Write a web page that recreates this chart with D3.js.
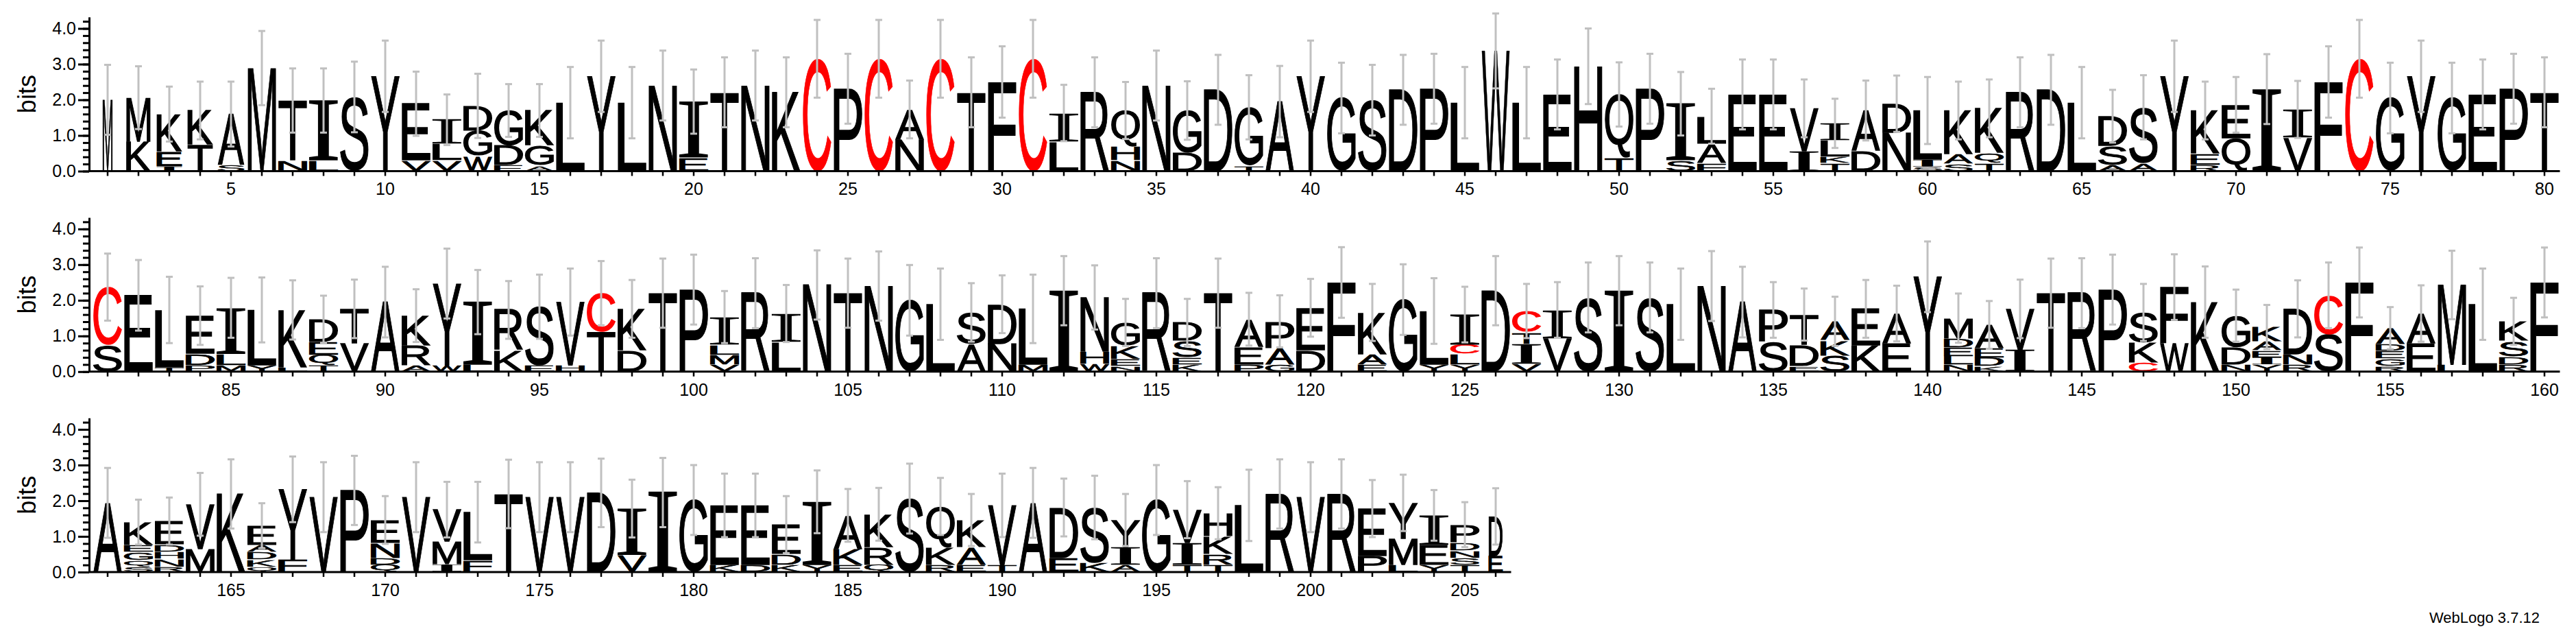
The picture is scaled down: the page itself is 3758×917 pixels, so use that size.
<!DOCTYPE html>
<meta charset="utf-8">
<script src="https://d3js.org/d3.v7.min.js"></script>
<style>
  body { margin: 0; background: #fff; }
  .tick text { font-family: "Liberation Sans", Arial, sans-serif; }
</style>
<div id="logo"></div>
<script>

// stacks bottom -> top, [residue, bits]
const row1Stacks = [
  [["M",2.0]], [["K",.83],["M",1.23]], [["I",.14],["E",.42],["K",1.04]], [["T",.75],["K",.95]], [["S",.17],["A",1.43]],
  [["M",2.89]], [["N",.3],["T",1.68]], [["L",.3],["I",1.68]], [["S",2.08]], [["Y",2.66]],
  [["V",.3],["E",1.59]], [["V",.3],["L",.46],["I",.68]], [["W",.43],["G",.7],["D",.7]], [["E",.16],["D",.56],["G",.98]], [["A",.16],["G",.56],["K",.98]],
  [["L",1.92]], [["Y",2.66]], [["L",1.92]], [["N",2.4]], [["E",.38],["I",1.57]],
  [["T",2.21]], [["N",2.4]], [["K",2.21]], [["C",3.15]], [["P",2.31]],
  [["C",3.15]], [["N",.88],["A",.85]], [["C",3.15]], [["T",2.21]], [["F",2.5]],
  [["C",3.15]], [["L",.82],["I",.81]], [["R",2.21]], [["N",.3],["H",.4],["Q",1.0]], [["N",2.4]],
  [["D",.52],["G",1.18]], [["D",2.28]], [["T",.16],["G",1.63]], [["A",1.95]], [["Y",2.66]],
  [["G",2.05]], [["S",1.99]], [["D",2.28]], [["P",2.31]], [["L",1.92]],
  [["W",3.37]], [["L",1.92]], [["E",2.15]], [["H",2.94]], [["T",.38],["Q",1.77]],
  [["P",2.31]], [["S",.3],["I",1.59]], [["F",.23],["A",.54],["L",.77]], [["E",2.15]], [["E",2.15]],
  [["I",.56],["V",1.2]], [["T",.23],["K",.17],["L",.47],["I",.47]], [["D",.56],["A",1.14]], [["N",1.08],["D",.81]], [["S",.12],["I",.2],["L",1.38]],
  [["S",.2],["A",.28],["K",1.22]], [["T",.23],["Q",.28],["K",1.25]], [["R",2.21]], [["D",2.28]], [["L",1.92]],
  [["A",.17],["S",.54],["D",.83]], [["A",.23],["S",1.56]], [["Y",2.66]], [["R",.17],["E",.33],["K",1.2]], [["Q",.92],["E",.94]],
  [["I",2.3]], [["V",.94],["I",.79]], [["F",2.5]], [["C",3.15]], [["G",2.05]],
  [["Y",2.66]], [["G",2.05]], [["E",2.15]], [["P",2.31]], [["T",2.21]]
];
const row2Stacks = [
  [["S",.75],["C",1.62]], [["E",2.14]], [["T",.12],["L",1.61]], [["P",.17],["D",.33],["E",1.07]], [["M",.17],["L",.33],["I",1.29]],
  [["Y",.17],["L",1.56]], [["L",.12],["K",1.61]], [["T",.17],["Q",.3],["E",.36],["D",.64]], [["V",.8],["T",.96]], [["A",1.95]],
  [["A",.17],["R",.57],["K",.83]], [["W",.17],["Y",2.3]], [["L",.19],["I",1.76]], [["K",.6],["R",1.13]], [["E",.17],["S",1.65]],
  [["H",.17],["V",1.78]], [["T",1.12],["C",1.08]], [["D",.6],["K",1.16]], [["T",2.2]], [["P",2.3]],
  [["V",.19],["M",.28],["L",.28],["I",.78]], [["R",2.2]], [["L",.82],["I",.81]], [["N",2.43]], [["T",2.2]],
  [["N",2.4]], [["G",2.0]], [["L",1.89]], [["A",.78],["S",.88]], [["N",.78],["D",1.11]],
  [["M",.19],["L",1.57]], [["I",2.27]], [["W",.22],["H",.34],["N",1.52]], [["N",.15],["E",.2],["K",.37],["G",.66]], [["R",2.2]],
  [["K",.19],["E",.2],["S",.47],["D",.52]], [["T",2.2]], [["P",.19],["E",.5],["A",.78]], [["G",.19],["A",.47],["P",.75]], [["D",.6],["E",1.19]],
  [["F",2.5]], [["E",.19],["A",.3],["K",1.17]], [["G",2.02]], [["Y",.19],["L",1.51]], [["Y",.19],["L",.3],["C",.27],["I",.84]],
  [["D",2.27]], [["V",.22],["I",.55],["T",.33],["C",.6]], [["V",.93],["I",.8]], [["S",2.08]], [["I",2.27]],
  [["S",2.08]], [["L",1.89]], [["N",2.4]], [["A",1.95]], [["S",.84],["P",.89]],
  [["E",.15],["D",.6],["T",.85]], [["S",.45],["K",.43],["A",.53]], [["K",.73],["E",1.03]], [["E",.78],["A",.85]], [["Y",2.66]],
  [["N",.19],["L",.24],["E",.25],["D",.25],["M",.57]], [["K",.15],["D",.24],["E",.26],["A",.66]], [["I",.6],["V",1.16]], [["T",2.2]], [["R",2.2]],
  [["P",2.3]], [["C",.25],["K",.57],["S",.84]], [["W",.8],["F",1.57]], [["K",1.95]], [["N",.19],["D",.49],["G",.89]],
  [["Y",.19],["I",.2],["E",.2],["A",.25],["K",.41]], [["R",.19],["N",.3],["D",1.27]], [["S",1.05],["C",1.09]], [["F",2.5]], [["R",.15],["G",.21],["E",.21],["D",.2],["A",.45]],
  [["E",.78],["A",.85]], [["L",.19],["M",2.24]], [["L",1.89]], [["R",.19],["D",.23],["S",.44],["K",.55]], [["F",2.5]]
];
const row3Stacks = [
  [["A",1.94]], [["S",.15],["Q",.18],["G",.23],["E",.2],["K",.64]], [["R",.15],["N",.22],["H",.2],["D",.2],["E",.66]], [["M",.64],["V",1.26]], [["K",2.19]],
  [["Q",.15],["K",.2],["D",.21],["A",.2],["E",.54]], [["F",.35],["Y",1.97]], [["V",2.1]], [["P",2.29]], [["Q",.2],["D",.2],["N",.42],["E",.64]],
  [["V",2.1]], [["I",.22],["M",.63],["V",.9]], [["F",.33],["L",1.35]], [["T",2.19]], [["V",2.1]],
  [["V",2.1]], [["D",2.22]], [["V",.47],["I",1.31]], [["I",2.23]], [["G",2.02]],
  [["K",.2],["E",1.67]], [["D",.2],["E",1.67]], [["K",.2],["D",.3],["E",.83]], [["Y",.2],["I",1.77]], [["E",.2],["K",.44],["A",.95]],
  [["Q",.2],["R",.5],["K",.92]], [["S",2.06]], [["R",.2],["K",.5],["Q",1.14]], [["E",.2],["A",.5],["K",.76]], [["T",.2],["V",1.67]],
  [["A",1.94]], [["E",.4],["D",1.41]], [["K",.25],["S",1.56]], [["A",.2],["I",.5],["Y",.76]], [["G",2.02]],
  [["T",.2],["I",.62],["V",.93]], [["T",.2],["R",.3],["K",.5],["H",.65]], [["L",1.87]], [["R",2.19]], [["V",2.1]],
  [["R",2.19]], [["P",.45],["E",1.33]], [["L",.2],["M",.73],["Y",1.01]], [["Y",.2],["E",.56],["I",.83]], [["T",.2],["S",.2],["N",.2],["D",.23],["P",.5]],
  [["E",.44],["D",1.12]]
];

// error bar half-lengths (bits)
const errRow1 = [.98,.88,.77,.81,.91,1.04,.9,.9,.99,1.0, .9,.71,.9,.74,.74,1.0,1.0,1.0,.98,.9,
  .98,.98,.98,1.09,.98,1.09,.81,1.09,.98,1.0, 1.09,.79,.98,.8,.98,.82,.98,.9,1.0,1.0,
  .99,.99,.98,.98,1.0,1.05,1.0,.98,1.06,.9, .98,.89,.77,.98,.98,.81,.69,.84,.79,.94,
  .81,.81,.98,.98,1.0,.74,.9,1.0,.81,.78, .98,.8,1.0,1.09,.99,1.0,.99,.98,.98,.98];
const errRow2 = [.94,.99,.93,.82,.84,.91,.83,.66,.82,.99, .74,.98,.9,.81,.9,.94,.9,.81,.97,.98,
  .73,.98,.8,.97,.97,.97,.99,1.0,.82,.81, .96,.97,.9,.66,.98,.66,.97,.74,.73,.81,
  .99,.8,.99,.92,.78,.97,.76,.78,.98,.97, .98,1.0,.98,.99,.78,.73,.69,.81,.78,.99,
  .69,.67,.82,.97,.98,.98,.8,.92,1.0,.73, .62,.8,.92,.98,.59,.79,.96,1.0,.66,.98];
const errRow3 = [.98,.63,.66,.88,.97,.63,.92,.98,.97,.67, .98,.78,.85,.96,.98,.98,.96,.81,.97,.98,
  .89,.89,.8,.88,.74,.74,.98,.8,.73,.89, .98,.81,.89,.73,.98,.8,.73,1.0,.97,.98,
  .97,.8,.79,.71,.63,.79];

// columns with many gaps are drawn narrower
const colWidths = [[1,.37],[2,.85],[3,.88],[4,.88],[5,.93],[206,.5]];
const yTicks = [0, 1, 2, 3, 4];

const W = 3758, H = 917;
const left = 134.5, step = 45, letterW = 42, axisX = 130;
const maxBits = Math.log2(20), bitPx = 52;
const rows = [
  {start: 1, stacks: row1Stacks, err: errRow1, base: 249.5},
  {start: 81, stacks: row2Stacks, err: errRow2, base: 541.8},
  {start: 161, stacks: row3Stacks, err: errRow3, base: 834}
];
const widthOf = new Map(colWidths);
const colour = ch => ch === "C" ? "#ff0000" : "#000000";
const family = ch => ch === "I" ? "'Liberation Serif'" : "'Liberation Sans'";

// ink box of each glyph, so a letter can be stretched to fill its cell
const ctx = document.createElement("canvas").getContext("2d");
const inkCache = {};
function ink(ch) {
  if (!inkCache[ch]) {
    ctx.font = "200px " + family(ch);
    const m = ctx.measureText(ch);
    inkCache[ch] = {l: m.actualBoundingBoxLeft, r: m.actualBoundingBoxRight,
                    a: m.actualBoundingBoxAscent, d: m.actualBoundingBoxDescent};
  }
  return inkCache[ch];
}

const svg = d3.select("#logo").append("svg")
  .attr("width", W).attr("height", H)
  .style("display", "block");
svg.append("rect").attr("width", W).attr("height", H).attr("fill", "#fff");

rows.forEach(r => {
  const positions = d3.range(r.start, r.start + r.stacks.length);
  const x = d3.scaleBand().domain(positions).range([left, left + positions.length * step]);
  const y = d3.scaleLinear().domain([0, maxBits]).range([r.base, r.base - maxBits * bitPx]);
  const g = svg.append("g");

  // letters (a thin outline thickens the stretched strokes a little)
  positions.forEach((p, k) => {
    const w = letterW * (widthOf.get(p) || 1);
    const cx = x(p) + x.bandwidth() / 2;
    let cum = 0;
    r.stacks[k].forEach(([ch, h]) => {
      const y0 = y(cum + h), y1 = y(cum);
      cum += h;
      const m = ink(ch);
      const pad = 0.7;
      const bw = w - 2 * pad, bh = Math.max(0.5, (y1 - y0) - 2 * pad);
      g.append("text")
        .attr("font-family", family(ch))
        .attr("font-size", 200)
        .attr("fill", colour(ch))
        .attr("stroke", colour(ch))
        .attr("stroke-width", 1.4)
        .attr("vector-effect", "non-scaling-stroke")
        .attr("transform", `translate(${cx - w / 2 + pad},${y0 + pad}) scale(${bw / (m.l + m.r)},${bh / (m.a + m.d)}) translate(${m.l},${m.a})`)
        .text(ch);
    });
  });

  // error bars
  const eb = g.append("g").attr("stroke", "#c0c0c0").attr("stroke-width", 3);
  positions.forEach((p, k) => {
    const top = d3.sum(r.stacks[k], d => d[1]);
    const cx = x(p) + x.bandwidth() / 2;
    const hi = y(top + r.err[k]), lo = y(Math.max(0, top - r.err[k]));
    eb.append("line").attr("x1", cx).attr("x2", cx).attr("y1", hi).attr("y2", lo);
    eb.append("line").attr("x1", cx - 5).attr("x2", cx + 5).attr("y1", hi).attr("y2", hi);
    eb.append("line").attr("x1", cx - 5).attr("x2", cx + 5).attr("y1", lo).attr("y2", lo);
  });

  // x axis
  const xEnd = left + positions.length * step;
  const xa = g.append("g").attr("transform", `translate(0,${r.base})`)
    .call(d3.axisBottom(x).tickSize(7).tickSizeOuter(0).tickPadding(10)
      .tickFormat(d => d % 5 === 0 ? d : ""));
  xa.select(".domain").attr("d", `M${axisX},0H${xEnd}`);
  xa.selectAll("line").attr("stroke-width", 2.5);
  xa.select(".domain").attr("stroke-width", 3);
  xa.selectAll("text").attr("font-size", 25).attr("fill", "#000");

  // y axis, minor then major
  g.append("g").attr("transform", `translate(${axisX},0)`)
    .call(d3.axisLeft(y).tickValues(d3.range(0, 4.3, 0.2)).tickSize(9).tickSizeOuter(0).tickFormat(""))
    .call(a => a.selectAll("line").attr("stroke-width", 3))
    .call(a => a.select(".domain").attr("stroke-width", 3));
  g.append("g").attr("transform", `translate(${axisX},0)`)
    .call(d3.axisLeft(y).tickValues(yTicks).tickSize(16).tickSizeOuter(0).tickPadding(3).tickFormat(d3.format(".1f")))
    .call(a => a.selectAll("line").attr("stroke-width", 3))
    .call(a => a.select(".domain").remove())
    .call(a => a.selectAll("text").attr("font-size", 25).attr("fill", "#000"));

  g.append("text")
    .attr("transform", `translate(52,${r.base - maxBits * bitPx / 2}) rotate(-90)`)
    .attr("text-anchor", "middle")
    .attr("font-family", "'Liberation Sans', Arial, sans-serif")
    .attr("font-size", 36)
    .text("bits");
});

svg.append("text")
  .attr("x", 3705).attr("y", 908)
  .attr("text-anchor", "end")
  .attr("font-family", "'Liberation Sans', Arial, sans-serif")
  .attr("font-size", 22)
  .text("WebLogo 3.7.12");

</script>
